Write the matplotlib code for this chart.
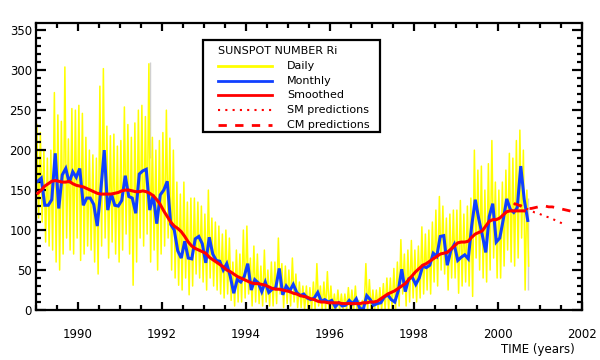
import numpy as np
import matplotlib
matplotlib.use("Agg")
import matplotlib.pyplot as plt
from matplotlib.lines import Line2D
from matplotlib.ticker import MultipleLocator

# ---------------- data (month index 0 = Jan 1989) ----------------
start_year = 1989

monthly = [161, 165, 131, 131, 138, 196, 127, 169, 177, 159, 173, 166,
           177, 131, 140, 140, 132, 105, 149, 200, 125, 146, 131, 130,
           137, 168, 142, 140, 121, 170, 174, 176, 125, 144, 108, 144,
           150, 161, 107, 100, 74, 65, 86, 65, 64, 89, 92, 83,
           59, 91, 70, 62, 61, 50, 58, 42, 21, 38, 35, 42,
           58, 25, 38, 34, 23, 35, 22, 26, 28, 52, 19, 30,
           24, 32, 22, 18, 20, 15, 13, 15, 22, 11, 13, 10,
           12, 4, 9, 5, 6, 12, 8, 14, 2, 1, 18, 13,
           6, 8, 9, 16, 19, 13, 10, 24, 51, 23, 39, 41,
           32, 40, 55, 53, 56, 71, 67, 92, 93, 56, 74, 82,
           62, 66, 69, 64, 106, 138, 114, 94, 72, 117, 133, 85,
           90, 113, 139, 126, 122, 128, 180, 138, 112]

smoothed = [146, 150, 155, 158, 161, 162, 161, 160, 160, 161, 158, 156,
            155, 154, 152, 150, 148, 146, 145, 145, 145, 145, 146, 147,
            149, 150, 150, 149, 148, 148, 149, 148, 146, 143, 138, 132,
            124, 117, 110, 105, 102, 98, 92, 85, 80, 77, 75, 73,
            71, 66, 63, 60, 57, 54, 50, 48, 45, 42, 40, 38,
            36, 34, 33, 33, 32, 31, 29, 27, 26, 26, 25, 24,
            23, 21, 20, 18, 17, 16, 14, 13, 11, 10, 10, 9,
            9, 9, 9, 8, 8, 8, 8, 8, 8, 9, 9, 10,
            10, 11, 14, 17, 20, 22, 24, 27, 30, 33, 38, 43,
            48, 52, 56, 58, 61, 64, 67, 70, 71, 72, 76, 80,
            84, 85, 85, 86, 91, 95, 97, 99, 105, 111, 113, 113,
            115, 119, 123, 124, 124, 124, 124, 124]

daily_hi = [232, 222, 200, 190, 200, 272, 244, 236, 304, 214, 252, 250,
            256, 246, 216, 200, 194, 190, 280, 302, 230, 218, 220, 205,
            212, 254, 232, 216, 234, 250, 256, 242, 308, 216, 200, 212,
            222, 250, 215, 200, 160, 145, 160, 135, 140, 140, 135, 130,
            120, 150, 115, 110, 105, 95, 100, 90, 60, 75, 70, 100,
            105, 65, 80, 70, 55, 75, 50, 60, 60, 90, 58, 55,
            50, 65, 45, 35, 30, 30, 28, 35, 58, 30, 35, 48,
            30, 20, 25, 20, 20, 28, 25, 30, 12, 12, 58, 38,
            25, 25, 28, 33, 40, 40, 52, 60, 88, 70, 75, 87,
            75, 80, 104, 95, 100, 110, 125, 142, 130, 115, 120, 125,
            125, 137, 120, 130, 140, 200, 175, 180, 150, 183, 212, 160,
            150, 160, 175, 196, 190, 212, 225, 200, 150]

daily_lo = [115, 110, 85, 80, 75, 60, 50, 70, 90, 75, 70, 90,
            62, 70, 80, 75, 60, 45, 80, 90, 65, 85, 70, 60,
            75, 95, 70, 31, 60, 90, 80, 95, 60, 75, 50, 70,
            80, 90, 50, 40, 31, 25, 40, 19, 30, 45, 40, 35,
            25, 40, 30, 25, 20, 15, 20, 12, 5, 10, 10, 15,
            20, 5, 10, 8, 5, 10, 5, 5, 8, 20, 3, 8,
            5, 10, 3, 3, 0, 0, 0, 0, 5, 0, 0, 0,
            0, 0, 0, 0, 0, 0, 0, 0, 0, 0, 0, 0,
            0, 0, 0, 0, 0, 0, 0, 5, 20, 5, 10, 15,
            10, 15, 20, 25, 20, 35, 30, 50, 45, 25, 40, 40,
            21, 30, 35, 30, 17, 65, 50, 40, 35, 50, 65, 40,
            40, 55, 75, 60, 55, 65, 90, 25, 55]

# faint grey daily spikes (year, low, high)
grey_x = [1991.72, 2000.72]
grey_lo = [190, 25]
grey_hi = [310, 140]

sm_start = 136
sm_pred = [132, 134, 131, 128, 126, 124, 122, 121, 119, 117, 116, 114, 112, 110, 108]
cm_start = 136
cm_pred = [133, 132, 130, 128, 127, 127, 128, 129, 130, 130, 129, 129, 128, 127, 126, 125, 124, 123]

x_ticks = [1990, 1992, 1994, 1996, 1998, 2000, 2002]
y_ticks = [0, 50, 100, 150, 200, 250, 300, 350]

legend_title = "SUNSPOT NUMBER Ri"
legend_labels = ["Daily", "Monthly", "Smoothed", "SM predictions", "CM predictions"]

# ---------------- figure ----------------
W, H = 600, 360
fig = plt.figure(figsize=(W / 100, H / 100), dpi=100)
fig.patch.set_facecolor("white")

def fx(px):
    return px / W

def fy(py):
    return 1 - py / H

ax = fig.add_axes([fx(36), fy(310), fx(582) - fx(36), fy(23) - fy(310)])

YELLOW = "#ffff00"
BLUE = "#1040ff"
RED = "#ff0000"

ax.vlines(grey_x, grey_lo, grey_hi, color="#d0d0d0", lw=1.0, zorder=0.5)

# daily as zigzag between monthly hi / lo
xd, yd = [], []
for m, (hi, lo) in enumerate(zip(daily_hi, daily_lo)):
    xd += [start_year + (m + 0.25) / 12, start_year + (m + 0.75) / 12]
    yd += [hi, lo]
ax.plot(xd, yd, color=YELLOW, lw=1.1, zorder=1)

xm = [start_year + (m + 0.5) / 12 for m in range(len(monthly))]
ax.plot(xm, monthly, color=BLUE, lw=2.2, zorder=2, solid_joinstyle="miter")

xs = [start_year + (m + 0.5) / 12 for m in range(len(smoothed))]
ax.plot(xs, smoothed, color=RED, lw=2.2, zorder=3)

x_sm = [start_year + (sm_start + i + 0.5) / 12 for i in range(len(sm_pred))]
ax.plot(x_sm, sm_pred, color=RED, lw=1.5, ls=(0, (1, 2.5)), zorder=3)
x_cm = [start_year + (cm_start + i + 0.5) / 12 for i in range(len(cm_pred))]
ax.plot(x_cm, cm_pred, color=RED, lw=2.0, ls=(0, (3, 3)), zorder=3)

ax.set_xlim(1989, 2002)
ax.set_ylim(0, 359)
ax.set_xticks(x_ticks)
ax.set_yticks(y_ticks)
ax.xaxis.set_minor_locator(MultipleLocator(0.5))
ax.yaxis.set_minor_locator(MultipleLocator(10))
ax.tick_params(which="both", direction="in", top=True, right=True,
               width=1.6, colors="black")
ax.tick_params(which="major", axis="y", length=7.5, pad=3, labelsize=8.5)
ax.tick_params(which="minor", axis="y", length=3.5)
ax.tick_params(which="major", axis="x", length=6, pad=13, labelsize=8.5)
ax.tick_params(which="minor", axis="x", length=3.5)
ax.tick_params(labelright=False, labeltop=False)
for s in ax.spines.values():
    s.set_linewidth(1.6)

fig.text(fx(575), fy(349), "TIME (years)", ha="right", va="center", fontsize=8.5)

# ---------------- legend (drawn manually) ----------------
lx0, ly0, lx1, ly1 = 203, 40, 380, 132
box = plt.Rectangle((fx(lx0), fy(ly1)), fx(lx1) - fx(lx0), fy(ly0) - fy(ly1),
                    transform=fig.transFigure, fill=True, facecolor="white",
                    edgecolor="black", lw=1.6, zorder=10)
fig.patches.append(box)
fig.text(fx(218), fy(51), legend_title, ha="left", va="center", fontsize=8, zorder=11)
styles = [
    dict(color=YELLOW, lw=2.0, ls="-"),
    dict(color=BLUE, lw=2.0, ls="-"),
    dict(color=RED, lw=2.0, ls="-"),
    dict(color=RED, lw=1.5, ls=(0, (1, 2.5))),
    dict(color=RED, lw=2.0, ls=(0, (3, 3))),
]
for i, (lab, st) in enumerate(zip(legend_labels, styles)):
    yy = 66 + i * 14.7
    fig.add_artist(Line2D([fx(218), fx(272)], [fy(yy), fy(yy)],
                          transform=fig.transFigure, zorder=11, **st))
    fig.text(fx(287), fy(yy), lab, ha="left", va="center", fontsize=8, zorder=11)

fig.savefig("out.png", dpi=100, facecolor="white")
